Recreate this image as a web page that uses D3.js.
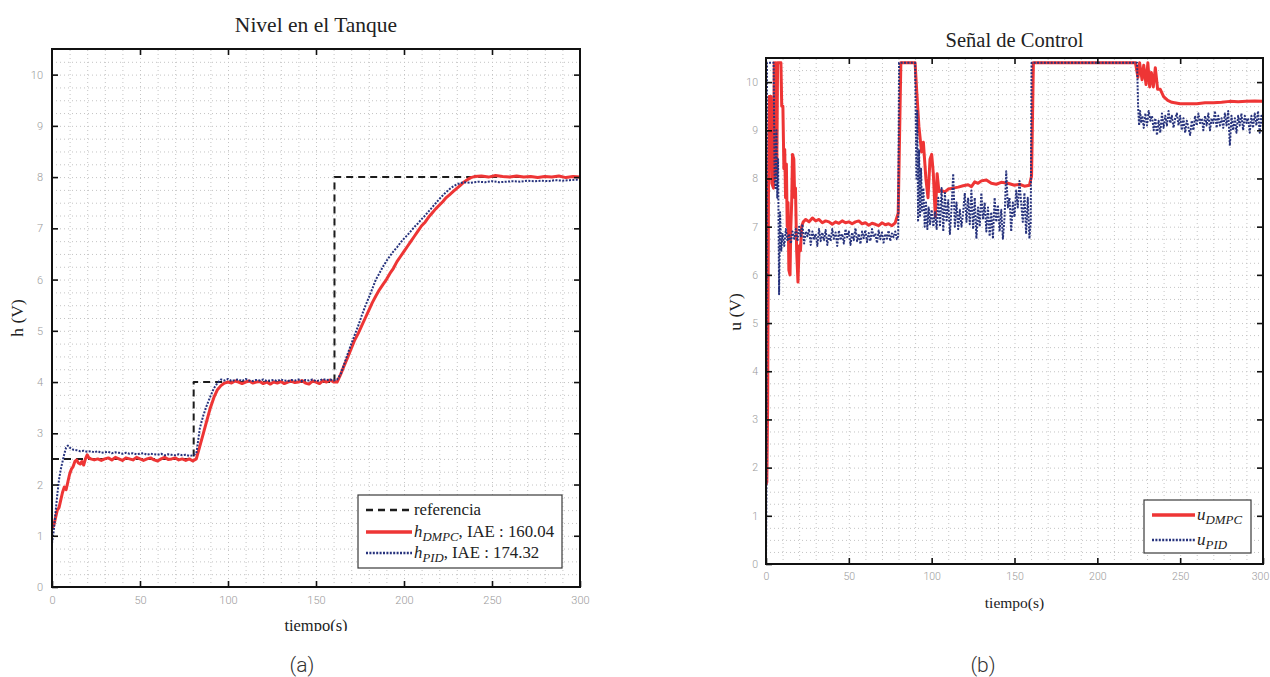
<!DOCTYPE html>
<html>
<head>
<meta charset="utf-8">
<script src="https://cdn.jsdelivr.net/npm/d3@7"></script>
<style>
body { margin: 0; background: #fff; }
svg { display: block; }
.tick text { font-family: Roboto, "Liberation Sans", sans-serif; font-weight: 300; fill: #9a9a9a; }
.axis path { display: none; }
.axis line { stroke: #111; stroke-width: 1.6; }
.grid path { display: none; }
.grid line { stroke: #c4c4c4; stroke-width: 1; stroke-dasharray: 1, 3; }
.serif { font-family: "Liberation Serif", "DejaVu Serif", serif; fill: #222; }
.tag { font-family: Roboto, "Liberation Sans", sans-serif; font-weight: 300; fill: #333; }
</style>
</head>
<body>
<svg id="chart" width="1270" height="677"></svg>
<script>
// ticks
var xTicks = [0, 50, 100, 150, 200, 250, 300];
var yTicks = [0, 1, 2, 3, 4, 5, 6, 7, 8, 9, 10];

// nivel: [tiempo, h]
var hRef = [[0, 2.5], [80.5, 2.5], [80.5, 4], [160.5, 4], [160.5, 8], [300, 8]];

var hDMPC = [[0,1.15],[1,1.2],[2,1.35],[3,1.5],[4,1.55],[5,1.7],[6,1.85],[7,1.95],[8,1.9],[9,2.05],[10,2.2],[11,2.3],[12,2.35],[13,2.45],[14,2.48],[15,2.42],[16,2.4],[17,2.45],[18,2.38],[19,2.5],[20,2.58],[21,2.52],[22,2.5],[24,2.48],[26,2.5],[28,2.47],[30,2.5],[32,2.52],[34,2.48],[36,2.53],[38,2.5],[40,2.47],[42,2.52],[44,2.5],[46,2.48],[48,2.53],[50,2.5],[52,2.47],[54,2.5],[56,2.52],[58,2.48],[60,2.46],[62,2.5],[64,2.53],[66,2.49],[68,2.5],[70,2.52],[72,2.48],[74,2.5],[76,2.47],[78,2.5],[80,2.46],[82,2.5],[84,2.75],[86,3.0],[88,3.25],[90,3.5],[92,3.7],[94,3.85],[96,3.93],[98,3.98],[100,4.0],[102,3.98],[104,4.02],[106,4.0],[108,3.97],[110,4.0],[112,4.02],[114,3.98],[116,4.0],[118,4.01],[120,3.97],[122,4.0],[124,3.96],[126,4.0],[128,3.98],[130,4.01],[132,3.97],[134,4.0],[136,4.02],[138,3.99],[140,4.0],[142,4.03],[144,3.98],[146,3.96],[148,4.02],[150,4.0],[152,3.97],[154,4.03],[156,4.0],[158,4.04],[160,4.0],[162,4.0],[164,4.15],[166,4.32],[168,4.48],[170,4.65],[172,4.82],[174,4.95],[176,5.1],[178,5.25],[180,5.4],[182,5.55],[184,5.68],[186,5.8],[188,5.9],[190,6.0],[192,6.12],[194,6.22],[196,6.35],[198,6.45],[200,6.55],[202,6.65],[204,6.75],[206,6.85],[208,6.95],[210,7.05],[212,7.12],[214,7.22],[216,7.3],[218,7.38],[220,7.45],[222,7.52],[224,7.6],[226,7.66],[228,7.72],[230,7.78],[232,7.84],[234,7.9],[236,7.95],[238,7.99],[240,8.01],[244,8.02],[248,8.0],[252,8.03],[256,8.01],[260,8.0],[264,8.02],[268,8.0],[272,8.01],[276,7.99],[280,8.01],[284,8.0],[288,8.02],[292,7.99],[296,8.01],[300,8.0]];

var hPID = [[0,0.85],[1,1.1],[2,1.45],[3,1.8],[4,2.1],[5,2.3],[6,2.45],[7,2.6],[8,2.72],[9,2.76],[10,2.72],[12,2.68],[14,2.67],[16,2.65],[18,2.66],[20,2.64],[22,2.65],[24,2.63],[26,2.65],[28,2.62],[30,2.63],[32,2.64],[34,2.61],[36,2.63],[38,2.62],[40,2.6],[42,2.62],[44,2.6],[46,2.61],[48,2.59],[50,2.6],[52,2.61],[54,2.58],[56,2.6],[58,2.59],[60,2.58],[62,2.6],[64,2.57],[66,2.59],[68,2.58],[70,2.57],[72,2.59],[74,2.57],[76,2.58],[78,2.56],[80,2.57],[82,2.6],[84,3.1],[86,3.35],[88,3.55],[90,3.72],[92,3.88],[94,3.98],[96,4.05],[98,4.03],[100,4.06],[102,4.02],[104,4.04],[106,4.05],[108,4.02],[110,4.06],[112,4.03],[114,4.02],[116,4.04],[118,4.03],[120,4.05],[122,4.02],[124,4.03],[126,4.04],[128,4.02],[130,4.05],[132,4.03],[134,4.02],[136,4.04],[138,4.03],[140,4.05],[142,4.02],[144,4.04],[146,4.03],[148,4.05],[150,4.02],[152,4.03],[154,4.06],[156,4.04],[158,4.05],[160,4.03],[162,4.05],[164,4.15],[166,4.35],[168,4.55],[170,4.74],[172,4.92],[174,5.1],[176,5.3],[178,5.48],[180,5.65],[182,5.82],[184,6.0],[186,6.12],[188,6.25],[190,6.36],[192,6.46],[194,6.55],[196,6.63],[198,6.72],[200,6.8],[202,6.87],[204,6.95],[206,7.03],[208,7.1],[210,7.18],[212,7.25],[214,7.33],[216,7.41],[218,7.49],[220,7.57],[222,7.64],[224,7.71],[226,7.77],[228,7.82],[230,7.86],[232,7.88],[234,7.9],[238,7.89],[242,7.91],[246,7.9],[250,7.92],[254,7.9],[258,7.91],[262,7.92],[266,7.91],[270,7.93],[274,7.92],[278,7.93],[282,7.92],[286,7.94],[290,7.93],[294,7.94],[298,7.95],[300,7.94]];

// señal de control: [tiempo, u]
var uDMPC = [[0,1.65],[0.5,1.7],[1,3.3],[1.5,7.8],[2,9.7],[3,9.7],[3.5,7.9],[4.5,7.8],[5,10.4],[5.5,8.0],[6,10.4],[6.5,8.1],[7,10.4],[9,10.4],[9.5,9.5],[10.2,9.5],[10.8,8.2],[11.3,8.6],[11.8,7.6],[12.3,8.3],[12.8,7.0],[13.3,7.5],[13.8,6.1],[14.5,6.0],[15,7.0],[15.5,7.5],[16,8.5],[16.8,8.4],[17.3,7.6],[17.8,7.8],[18.5,6.5],[19.3,5.85],[20,6.6],[20.8,6.5],[21.5,7.0],[22.5,7.1],[24,7.15],[26,7.1],[28,7.18],[30,7.12],[32,7.15],[34,7.08],[36,7.12],[38,7.1],[40,7.05],[42,7.1],[44,7.07],[46,7.12],[48,7.08],[50,7.1],[52,7.06],[54,7.1],[56,7.12],[58,7.06],[60,7.08],[62,7.03],[64,7.07],[66,7.05],[68,7.02],[70,7.08],[72,7.04],[74,7.06],[76,7.02],[78,7.08],[79.8,7.28],[81.4,10.4],[90,10.4],[91,9.8],[92.3,9.08],[93.9,8.55],[95,8.75],[96.5,8.0],[97.8,7.6],[99,8.4],[100,8.5],[101,8.1],[102.2,7.2],[103.3,8.1],[104.4,7.73],[106,7.75],[108,7.72],[110,7.78],[113,7.8],[116,7.82],[119,7.85],[122,7.87],[124,7.83],[126,7.93],[128,7.9],[130,7.95],[133,7.97],[136,7.9],[139,7.88],[142,7.92],[146,7.9],[150,7.86],[153,7.88],[156,7.84],[159,7.86],[160.3,8.05],[161.4,10.4],[223,10.4],[224.5,10.1],[225.5,10.4],[227,10.05],[228,10.35],[229.4,9.95],[230.5,10.4],[231.6,9.9],[232.6,10.2],[233.8,9.9],[235,10.3],[236.4,9.85],[238,9.85],[240,9.7],[242.5,9.62],[245,9.58],[250,9.55],[255,9.55],[260,9.55],[265,9.57],[270,9.57],[275,9.58],[280,9.6],[285,9.59],[290,9.6],[295,9.61],[300,9.6]];

var uPID = [[0,0],[0.3,1.6],[0.6,10.4],[4.6,10.4],[5.2,8.0],[5.8,7.8],[6.3,9.0],[6.8,7.6],[7.3,8.4],[7.9,5.6],[8.5,7.3],[9.2,6.5],[10,6.85],[11,6.6],[12,6.95],[13,6.7],[14,6.85],[15,6.65],[16,6.9],[17,6.75],[18,6.95],[19,6.7],[20,7.0],[21,6.8],[22,7.05],[23,6.65],[24,6.9],[25,6.8],[26,6.95],[27,6.62],[28,6.9],[29,6.75],[30,6.85],[31,6.6],[32,6.95],[33,6.7],[34,6.88],[35,6.72],[36,6.93],[37,6.62],[38,6.85],[39,6.7],[40,6.95],[41,6.75],[42,6.88],[43,6.6],[44,6.92],[45,6.72],[46,6.85],[47,6.65],[48,6.95],[49,6.78],[50,6.9],[51,6.62],[52,6.88],[53,6.72],[54,6.97],[55,6.7],[56,6.85],[57,6.64],[58,6.9],[59,6.76],[60,6.93],[61,6.68],[62,6.87],[63,6.7],[64,6.95],[65,6.78],[66,6.86],[67,6.66],[68,6.92],[69,6.74],[70,6.88],[71,6.67],[72,6.85],[73,6.75],[74,6.92],[75,6.7],[76,6.86],[77,6.78],[78,6.9],[79,6.74],[79.8,6.8],[80.3,10.4],[90,10.4],[90.8,8.0],[91.3,9.4],[91.8,7.1],[92.4,8.6],[93,7.2],[93.6,8.2],[94.2,7.3],[95,7.8],[95.8,7.0],[96.6,7.5],[97.4,6.95],[98.2,7.4],[99,7.05],[100,7.35],[101,7.0],[102,7.3],[103,6.95],[104,7.6],[105,7.0],[106,7.8],[107,6.9],[108,7.7],[109,7.1],[110,7.55],[111,6.85],[112,7.4],[113,8.1],[114,7.0],[115,7.5],[116,6.95],[117,7.35],[118,7.0],[119,7.3],[120,7.7],[121,7.1],[122,7.6],[123,7.05],[124,7.75],[125,6.95],[126,7.6],[127,6.75],[128,7.4],[129,7.0],[130,7.7],[131,7.15],[132,7.5],[133,6.9],[134,7.4],[135,6.8],[136,7.3],[137,6.75],[138,7.6],[139,7.1],[140,7.45],[141,6.9],[142,7.35],[143,6.75],[144,7.2],[145,8.15],[146,7.4],[147,7.6],[148,6.9],[149,7.5],[150,7.2],[151,7.75],[152,7.4],[153,7.95],[154,7.5],[155,7.1],[156,7.7],[157,6.85],[158,7.6],[159,6.75],[159.8,7.1],[160.3,10.4],[224,10.4],[224.6,9.5],[225.2,9.1],[225.8,9.4],[226.5,9.15],[227.2,9.3],[228,9.05],[229,9.35],[230,9.1],[231,9.4],[232,9.2],[233,9.3],[234,9.0],[235,9.25],[236,8.9],[237,9.2],[238,8.95],[239,9.35],[240,9.05],[241,9.3],[242,9.1],[243,9.4],[244,9.15],[245,9.3],[246,9.05],[247,9.25],[248,9.35],[249,9.1],[250,9.3],[251,9.0],[252,9.25],[253,8.95],[254,9.2],[255,9.05],[256,8.9],[257,9.2],[258,9.0],[259,9.3],[260,9.1],[261,9.35],[262,9.15],[263,9.25],[264,9.0],[265,9.3],[266,9.1],[267,9.35],[268,9.0],[269,9.25],[270,9.15],[271,9.4],[272,9.05],[273,9.3],[274,9.1],[275,9.25],[276,9.05],[277,9.35],[278,9.1],[279,9.4],[280,8.68],[281,9.3],[282,9.0],[283,9.25],[284,8.95],[285,9.3],[286,9.1],[287,9.35],[288,9.0],[289,9.3],[290,9.15],[291,9.25],[292,8.95],[293,9.3],[294,9.05],[295,9.35],[296,9.1],[297,9.4],[298,8.95],[299,9.3],[300,9.1]];

var styles = {
    ref: { stroke: '#1c1c1c', width: 2, dash: '7,5' },
    dmpc: { stroke: '#ee3535', width: 3, dash: null },
    pid: { stroke: '#27337d', width: 2, dash: '2,1.4' }
};

var svg = d3.select('#chart');

function drawPanel(p) {
    var g = svg.append('g');
    var x = d3.scaleLinear().domain([0, 300]).range([p.left, p.right]);
    var y = d3.scaleLinear().domain([0, 10.5]).range([p.bottom, p.top]);
    var h = p.bottom - p.top, w = p.right - p.left;

    // dotted grid
    g.append('g').attr('class', 'grid')
        .attr('transform', 'translate(0,' + p.bottom + ')')
        .call(d3.axisBottom(x).tickValues(d3.range(10, 300, 10)).tickSize(-h).tickFormat(''));
    g.append('g').attr('class', 'grid')
        .attr('transform', 'translate(' + p.left + ',0)')
        .call(d3.axisLeft(y).tickValues(d3.range(0.25, 10.5, 0.25)).tickSize(-w).tickFormat(''));

    var clipId = 'clip-' + p.id;
    g.append('clipPath').attr('id', clipId).append('rect')
        .attr('x', p.left).attr('y', p.top).attr('width', w).attr('height', h);

    var line = d3.line().x(function (d) { return x(d[0]); }).y(function (d) { return y(d[1]); });
    var plot = g.append('g').attr('clip-path', 'url(#' + clipId + ')');
    p.series.forEach(function (s) {
        var st = styles[s.style];
        plot.append('path').datum(s.data)
            .attr('d', line)
            .attr('fill', 'none')
            .attr('stroke', st.stroke)
            .attr('stroke-width', st.width)
            .attr('stroke-dasharray', st.dash)
            .attr('stroke-linejoin', 'round');
    });

    // ticks on four sides, pointing in
    var fs = p.tickFont;
    var bx = g.append('g').attr('class', 'axis').attr('transform', 'translate(0,' + p.bottom + ')')
        .call(d3.axisBottom(x).tickValues(xTicks).tickSizeInner(-6).tickSizeOuter(0).tickPadding(9));
    bx.selectAll('text').style('font-size', fs + 'px')
        .attr('dx', function (d) { return d === 300 ? -p.lastShift : 0; });
    g.append('g').attr('class', 'axis').attr('transform', 'translate(0,' + p.top + ')')
        .call(d3.axisTop(x).tickValues(xTicks.slice(1, -1)).tickSizeInner(-6).tickSizeOuter(0).tickFormat(''));
    g.append('g').attr('class', 'axis').attr('transform', 'translate(' + p.left + ',0)')
        .call(d3.axisLeft(y).tickValues(yTicks).tickSizeInner(-6).tickSizeOuter(0).tickPadding(p.yPad))
        .selectAll('text').style('font-size', fs + 'px');
    g.append('g').attr('class', 'axis').attr('transform', 'translate(' + p.right + ',0)')
        .call(d3.axisRight(y).tickValues(yTicks.slice(1)).tickSizeInner(-6).tickSizeOuter(0).tickFormat(''));

    g.append('rect').attr('x', p.left).attr('y', p.top).attr('width', w).attr('height', h)
        .attr('fill', 'none').attr('stroke', '#111').attr('stroke-width', 2);

    // texts
    var mid = (p.left + p.right) / 2;
    g.append('text').attr('class', 'serif').attr('x', mid).attr('y', p.titleY)
        .attr('text-anchor', 'middle').attr('dominant-baseline', 'central')
        .style('font-size', p.titleFont + 'px').text(p.title);

    var xl = g.append('g');
    if (p.xlabelClip) {
        g.append('clipPath').attr('id', clipId + '-xl').append('rect')
            .attr('x', 0).attr('y', 0).attr('width', 1270).attr('height', p.xlabelClip);
        xl.attr('clip-path', 'url(#' + clipId + '-xl)');
    }
    xl.append('text').attr('class', 'serif').attr('x', mid).attr('y', p.xlabelY)
        .attr('text-anchor', 'middle').attr('dominant-baseline', 'central')
        .style('font-size', p.xlabelFont + 'px').text('tiempo(s)');

    g.append('text').attr('class', 'serif')
        .attr('transform', 'translate(' + p.ylabelX + ',' + p.ylabelY + ') rotate(-90)')
        .attr('text-anchor', 'middle').attr('dominant-baseline', 'central')
        .style('font-size', p.ylabelFont + 'px').text(p.ylabel);

    g.append('text').attr('class', 'tag').attr('x', p.tagX).attr('y', 665)
        .attr('text-anchor', 'middle').attr('dominant-baseline', 'central')
        .style('font-size', '21px').text(p.tag);

    drawLegend(g, p.legend);
}

function drawLegend(g, L) {
    var lg = g.append('g');
    lg.append('rect').attr('x', L.x).attr('y', L.y).attr('width', L.w).attr('height', L.h)
        .attr('fill', '#fff').attr('stroke', '#3a3a3a').attr('stroke-width', 1.2);
    L.items.forEach(function (it) {
        var st = styles[it.style];
        lg.append('line').attr('x1', L.lineX0).attr('x2', L.lineX1).attr('y1', it.y).attr('y2', it.y)
            .attr('stroke', st.stroke).attr('stroke-width', st.width + 0.5)
            .attr('stroke-dasharray', st.dash);
        var t = lg.append('text').attr('class', 'serif').attr('x', L.lineX1 + 2).attr('y', it.y + 5)
            .style('font-size', L.font + 'px');
        it.parts.forEach(function (pt) {
            var s = t.append('tspan').text(pt.t);
            if (pt.it) s.style('font-style', 'italic');
            if (pt.sub) s.style('font-style', 'italic').style('font-size', (L.font * 0.76) + 'px').attr('dy', 4);
            if (pt.up) s.attr('dy', -4);
        });
    });
}

drawPanel({
    id: 'a', left: 52, right: 580, top: 49, bottom: 587,
    title: 'Nivel en el Tanque', titleY: 25, titleFont: 21.5,
    ylabel: 'h (V)', ylabelX: 17, ylabelY: 318, ylabelFont: 17.5, xlabelFont: 16.5,
    xlabelY: 625, xlabelClip: 631, tickFont: 11, yPad: 9, lastShift: 0,
    tag: '(a)', tagX: 302,
    series: [
        { data: hRef, style: 'ref' },
        { data: hDMPC, style: 'dmpc' },
        { data: hPID, style: 'pid' }
    ],
    legend: {
        x: 358, y: 495, w: 204, h: 73, lineX0: 366, lineX1: 412, font: 16.8,
        items: [
            { y: 510, style: 'ref', parts: [{ t: 'referencia' }] },
            { y: 532, style: 'dmpc', parts: [{ t: 'h', it: true }, { t: 'DMPC', sub: true }, { t: ', IAE : 160.04', up: true }] },
            { y: 553, style: 'pid', parts: [{ t: 'h', it: true }, { t: 'PID', sub: true }, { t: ', IAE : 174.32', up: true }] }
        ]
    }
});

drawPanel({
    id: 'b', left: 766, right: 1263, top: 58, bottom: 564,
    title: 'Señal de Control', titleY: 40, titleFont: 20.5,
    ylabel: 'u (V)', ylabelX: 735, ylabelY: 312, ylabelFont: 17.5, xlabelFont: 15.5,
    xlabelY: 602, xlabelClip: null, tickFont: 10.5, yPad: 8, lastShift: 3,
    tag: '(b)', tagX: 983,
    series: [
        { data: uDMPC, style: 'dmpc' },
        { data: uPID, style: 'pid' }
    ],
    legend: {
        x: 1144, y: 500, w: 107, h: 53, lineX0: 1152, lineX1: 1195, font: 17,
        items: [
            { y: 515, style: 'dmpc', parts: [{ t: 'u', it: true }, { t: 'DMPC', sub: true }] },
            { y: 540, style: 'pid', parts: [{ t: 'u', it: true }, { t: 'PID', sub: true }] }
        ]
    }
});
</script>
</body>
</html>
